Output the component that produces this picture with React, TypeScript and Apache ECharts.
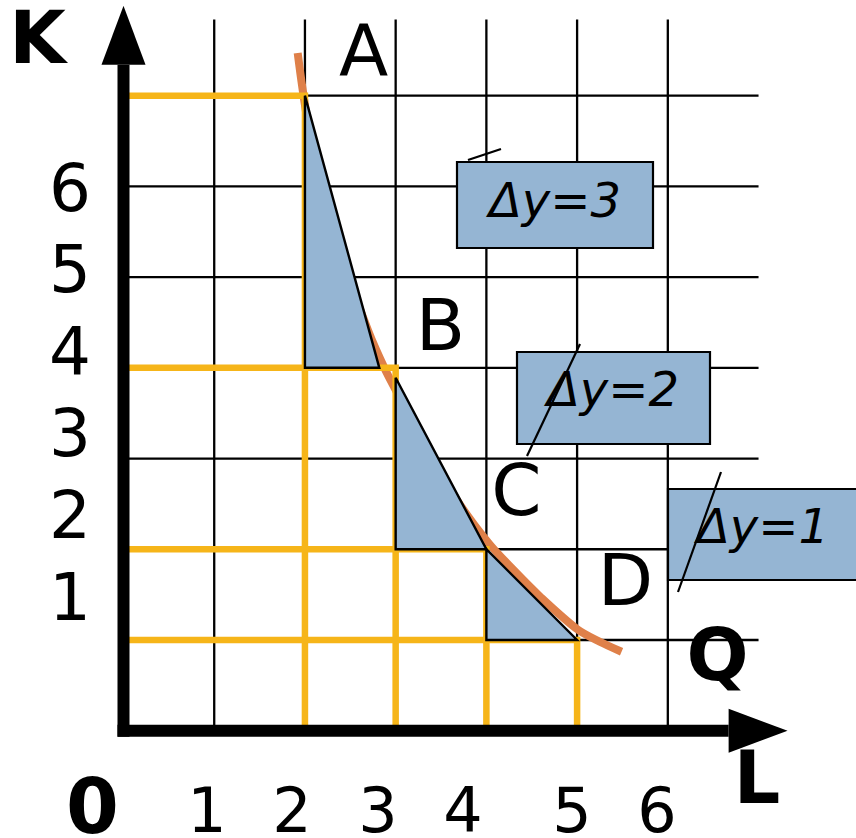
import React, { useEffect, useRef } from "react";
import * as echarts from "echarts";

// ---- data ----
const xTickLabels = ["1", "2", "3", "4", "5", "6"];
const yTickLabels = ["1", "2", "3", "4", "5", "6"];
const gridL = [1, 2, 3, 4, 5, 6];
const gridK = [1, 2, 3, 4, 5, 6, 7];
const pointNames = ["A", "B", "C", "D"];
const pointL = [2, 3, 4, 5];
const pointK = [7, 4, 2, 1];
const curveL = [1.92, 1.97, 2.05, 2.2, 2.45, 2.7, 2.88, 3.05, 3.3, 3.6, 3.8, 4.04, 4.3, 4.6, 5.0, 5.25, 5.49];
const curveK = [7.47, 7.1, 6.6, 5.95, 5.1, 4.4, 3.99, 3.66, 3.15, 2.66, 2.36, 2.05, 1.77, 1.47, 1.12, 0.98, 0.87];
const triangleA = [[2, 7], [2, 4], [2.82, 4]];
const triangleB = [[3, 3.89], [3, 2], [4, 2]];
const triangleC = [[4, 2], [4, 1], [5, 1]];
const triangles = [triangleA, triangleB, triangleC];
const deltaLabels = ["Δy=3", "Δy=2", "Δy=1"];
const axisNames = { y: "K", x: "L", origin: "0", isoquant: "Q" };

// ---- layout / style ----
const W = 856;
const H = 838;
const UNIT = 90.72;
const OX = 123.5;
const OY = 730.7;
const GRID_TOP_K = 7.84;
const GRID_RIGHT_L = 7;
const Y_ARROW = { base: 7.34, tip: 7.99 };
const X_ARROW = { base: 6.67, tip: 7.32 };
const FONT = '"DejaVu Sans", Verdana, sans-serif';
const BLUE = "#95B5D3";
const ORANGE = "#DF8049";
const YELLOW = "#F6B519";

const yLabelPos = [597, 515, 433, 351, 269, 188];
const yLabelX = 70;
const xLabelPos = [207, 292, 378, 463, 572, 657];
const xLabelY = 810;
const pointLabelPos = [
  [363.5, 50],
  [440.5, 325],
  [516.5, 490],
  [625.5, 580],
];
const boxes = [
  { x: 457, y: 162, w: 196, h: 86, tx: 555, ty: 200, line: [468, 160, 501, 149] },
  { x: 517, y: 352, w: 193, h: 92, tx: 613, ty: 389, line: [580, 344, 527, 456] },
  { x: 668, y: 489, w: 210, h: 91, tx: 763, ty: 526, line: [721, 472, 678, 592] },
];

function txt(text: string, x: number, y: number, font: string, lineHeight: number, z = 100) {
  return {
    type: "text",
    x,
    y,
    z,
    silent: true,
    style: {
      text,
      font,
      lineHeight,
      fill: "#000",
      align: "center",
      verticalAlign: "middle",
      textAlign: "center",
      textVerticalAlign: "middle",
    },
  };
}

export default function App() {
  const ref = useRef<HTMLDivElement>(null);

  useEffect(() => {
    if (!ref.current) return;
    const chart = echarts.init(ref.current, undefined, { renderer: "svg" });

    const graphics: any[] = [];
    boxes.forEach((b, i) => {
      graphics.push({
        type: "rect",
        z: 90,
        silent: true,
        shape: { x: b.x, y: b.y, width: b.w, height: b.h },
        style: { fill: BLUE, stroke: "#000", lineWidth: 2.2 },
      });
      graphics.push(txt(deltaLabels[i], b.tx, b.ty, `italic 48px ${FONT}`, 48, 95));
      graphics.push({
        type: "line",
        z: 96,
        silent: true,
        shape: { x1: b.line[0], y1: b.line[1], x2: b.line[2], y2: b.line[3] },
        style: { stroke: "#000", lineWidth: 2.2 },
      });
    });
    yTickLabels.forEach((t, i) => graphics.push(txt(t, yLabelX, yLabelPos[i], `66px ${FONT}`, 56)));
    xTickLabels.forEach((t, i) => graphics.push(txt(t, xLabelPos[i], xLabelY, `62px ${FONT}`, 50)));
    pointNames.forEach((t, i) =>
      graphics.push(txt(t, pointLabelPos[i][0], pointLabelPos[i][1], `72px ${FONT}`, 60))
    );
    graphics.push(txt(axisNames.y, 37.5, 37, `bold 73px ${FONT}`, 60));
    graphics.push(txt(axisNames.x, 757, 777, `bold 73px ${FONT}`, 60));
    graphics.push(txt(axisNames.isoquant, 717.5, 654, `bold 73px ${FONT}`, 60));
    graphics.push(txt(axisNames.origin, 92.5, 806, `bold 76px ${FONT}`, 60));

    const option: any = {
      animation: false,
      backgroundColor: "#fff",
      grid: {
        left: OX,
        right: W - (OX + 8 * UNIT),
        top: OY - 8 * UNIT,
        bottom: H - OY,
        containLabel: false,
      },
      xAxis: { type: "value", min: 0, max: 8, show: false, splitLine: { show: false } },
      yAxis: { type: "value", min: 0, max: 8, show: false, splitLine: { show: false } },
      series: [
        {
          type: "custom",
          name: "vgrid",
          z: 1,
          silent: true,
          clip: false,
          data: gridL.map((v) => [v, 0]),
          renderItem: (params: any, api: any) => {
            const x = api.value(0);
            const p1 = api.coord([x, 0]);
            const p2 = api.coord([x, GRID_TOP_K]);
            return {
              type: "line",
              shape: { x1: p1[0], y1: p1[1], x2: p2[0], y2: p2[1] },
              style: { stroke: "#000", lineWidth: 2.3 },
            };
          },
        },
        {
          type: "custom",
          name: "hgrid",
          z: 1,
          silent: true,
          clip: false,
          data: gridK.map((v) => [0, v]),
          renderItem: (params: any, api: any) => {
            const y = api.value(1);
            const p1 = api.coord([0, y]);
            const p2 = api.coord([GRID_RIGHT_L, y]);
            return {
              type: "line",
              shape: { x1: p1[0], y1: p1[1], x2: p2[0], y2: p2[1] },
              style: { stroke: "#000", lineWidth: 2.3 },
            };
          },
        },
        {
          type: "line",
          name: "isoquant",
          z: 2,
          silent: true,
          smooth: 0.3,
          showSymbol: false,
          symbol: "none",
          data: curveL.map((l, i) => [l, curveK[i]]),
          lineStyle: { color: ORANGE, width: 8, cap: "butt" },
        },
        {
          type: "custom",
          name: "guides",
          z: 3,
          silent: true,
          clip: false,
          data: pointL.map((l, i) => [l, pointK[i]]),
          renderItem: (params: any, api: any) => {
            const l = api.value(0);
            const k = api.value(1);
            const a = api.coord([0, k]);
            const b = api.coord([l, k]);
            const c = api.coord([l, 0]);
            return {
              type: "polyline",
              shape: { points: [a, b, c] },
              style: { stroke: YELLOW, lineWidth: 6.5, fill: "none", lineJoin: "miter", lineCap: "butt" },
            };
          },
        },
        {
          type: "custom",
          name: "triangles",
          z: 4,
          silent: true,
          clip: false,
          data: triangles.map((t) => t[0]),
          renderItem: (params: any, api: any) => {
            const t = triangles[params.dataIndex];
            return {
              type: "polygon",
              shape: { points: t.map((p) => api.coord(p)) },
              style: { fill: BLUE, stroke: "#000", lineWidth: 2.4, lineJoin: "miter" },
            };
          },
        },
        {
          type: "custom",
          name: "axes",
          z: 5,
          silent: true,
          clip: false,
          data: [[0, 0]],
          renderItem: (params: any, api: any) => {
            const o = api.coord([0, 0]);
            const yb = api.coord([0, Y_ARROW.base]);
            const yt = api.coord([0, Y_ARROW.tip]);
            const xb = api.coord([X_ARROW.base, 0]);
            const xt = api.coord([X_ARROW.tip, 0]);
            const hw = 6;
            const ah = 22;
            return {
              type: "group",
              children: [
                {
                  type: "rect",
                  shape: { x: o[0] - hw, y: yb[1], width: 2 * hw, height: o[1] + hw - yb[1] },
                  style: { fill: "#000" },
                },
                {
                  type: "rect",
                  shape: { x: o[0] - hw, y: o[1] - hw, width: xb[0] - (o[0] - hw), height: 2 * hw },
                  style: { fill: "#000" },
                },
                {
                  type: "polygon",
                  shape: { points: [[o[0] - ah, yb[1]], [o[0] + ah, yb[1]], [o[0], yt[1]]] },
                  style: { fill: "#000" },
                },
                {
                  type: "polygon",
                  shape: { points: [[xb[0], o[1] - ah], [xb[0], o[1] + ah], [xt[0], o[1]]] },
                  style: { fill: "#000" },
                },
              ],
            };
          },
        },
      ],
      graphic: { elements: graphics },
    };

    chart.setOption(option);
    return () => chart.dispose();
  }, []);

  return (
    <div
      ref={ref}
      style={{ position: "absolute", left: 0, top: 0, width: W, height: H, background: "#fff" }}
    />
  );
}
